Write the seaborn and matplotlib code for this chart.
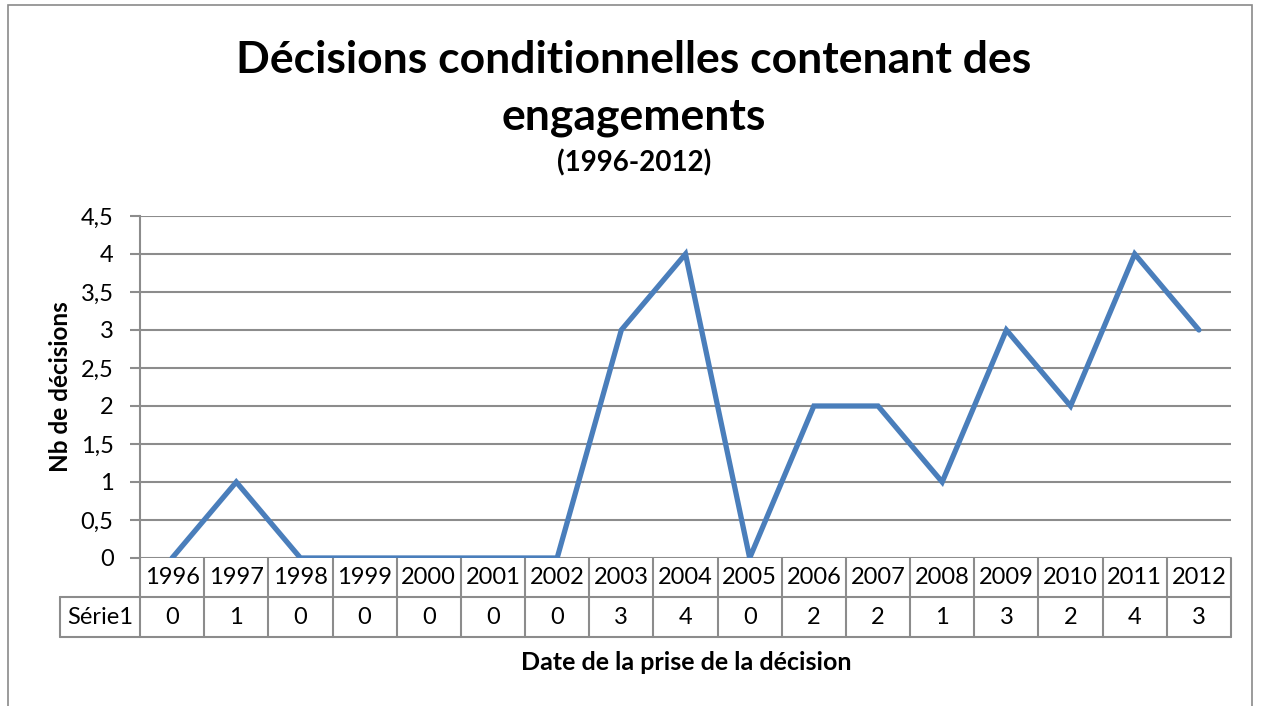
import matplotlib
matplotlib.use("Agg")
import matplotlib.pyplot as plt
import matplotlib.transforms as mtransforms
from matplotlib.patches import Rectangle
import seaborn as sns
import pandas as pd

years = ["1996", "1997", "1998", "1999", "2000", "2001", "2002", "2003", "2004",
         "2005", "2006", "2007", "2008", "2009", "2010", "2011", "2012"]
values = [0, 1, 0, 0, 0, 0, 0, 3, 4, 0, 2, 2, 1, 3, 2, 4, 3]
series_name = "Série1"
y_ticks = [0, 0.5, 1, 1.5, 2, 2.5, 3, 3.5, 4, 4.5]
y_tick_labels = ["0", "0,5", "1", "1,5", "2", "2,5", "3", "3,5", "4", "4,5"]
title_lines = ["Décisions conditionnelles contenant des", "engagements"]
title_sub = "(1996-2012)"
x_label = "Date de la prise de la décision"
y_label = "Nb de décisions"

sns.set_theme(style="white")
plt.rcParams["font.family"] = ["Lato", "DejaVu Sans"]
plt.rcParams["text.color"] = "black"

df = pd.DataFrame({"year": years, "value": values})
df["pos"] = range(len(years))

W, H = 1261, 706
fig = plt.figure(figsize=(W / 100, H / 100), dpi=100)
fig.patch.set_facecolor("white")

# outer chart border
fig.add_artist(Rectangle((8 / W, -0.01), (1252 - 8) / W, 1 - 5 / H + 0.01,
                         transform=fig.transFigure, fill=False,
                         edgecolor="#8a8a8a", linewidth=1.2))

left, right, top, bottom = 140, 1231, 216, 558
ax = fig.add_axes([left / W, 1 - bottom / H, (right - left) / W, (bottom - top) / H])

grid_col = "#8c8c8c"
for t in y_ticks:
    ax.axhline(t, color=grid_col, linewidth=1.5, zorder=1)

sns.lineplot(data=df, x="pos", y="value", ax=ax, color="#4a7ebb",
             linewidth=3.8, zorder=3, solid_joinstyle="miter")

fs = 17
n = len(years)
ax.set_xlim(-0.5, n - 0.5)
ax.set_ylim(0, 4.5)
ax.set_yticks(y_ticks)
ax.set_yticklabels(y_tick_labels, fontsize=fs)
ax.set_xticks([])
ax.set_xlabel("")
ax.set_ylabel("")
for s in ["top", "right", "bottom"]:
    ax.spines[s].set_visible(False)
ax.spines["left"].set_color(grid_col)
ax.spines["left"].set_linewidth(1.5)
ax.tick_params(axis="y", left=True, length=7, width=1.5, color=grid_col,
               pad=12, labelcolor="black")

# data table below the axes
axes_h = bottom - top
axes_w = right - left
r1 = -39 / axes_h
r2 = -79 / axes_h
blend = mtransforms.blended_transform_factory(ax.transData, ax.transAxes)
lk = dict(color=grid_col, linewidth=1.5, clip_on=False, zorder=2)
for i in range(n + 1):
    ax.plot([i - 0.5, i - 0.5], [0, r2], transform=blend, **lk)
lab_left = (60 - left) / axes_w
ax.plot([lab_left, 1], [r1, r1], transform=ax.transAxes, **lk)
ax.plot([lab_left, 1], [r2, r2], transform=ax.transAxes, **lk)
ax.plot([lab_left, lab_left], [r1, r2], transform=ax.transAxes, **lk)

for i, (yr, v) in enumerate(zip(years, values)):
    ax.text(i, r1 / 2, yr, transform=blend, ha="center", va="center",
            fontsize=fs, color="black")
    ax.text(i, (r1 + r2) / 2, str(v), transform=blend, ha="center",
            va="center", fontsize=fs, color="black")
ax.text((lab_left + 0) / 2, (r1 + r2) / 2, series_name, transform=ax.transAxes,
        ha="center", va="center", fontsize=fs, color="black")

# titles and axis labels
fig.text(634 / W, 1 - 60 / H, title_lines[0], ha="center", va="center",
         fontsize=32, fontweight="bold", color="black")
fig.text(634 / W, 1 - 117 / H, title_lines[1], ha="center", va="center",
         fontsize=32, fontweight="bold", color="black")
fig.text(634 / W, 1 - 163 / H, title_sub, ha="center", va="center",
         fontsize=20, fontweight="bold", color="black")
fig.text(686 / W, 1 - 662 / H, x_label, ha="center", va="center",
         fontsize=18, fontweight="bold", color="black")
fig.text(60 / W, 1 - 387 / H, y_label, ha="center", va="center",
         fontsize=17.5, fontweight="bold", rotation=90, color="black")

fig.savefig("out.png", dpi=100)
